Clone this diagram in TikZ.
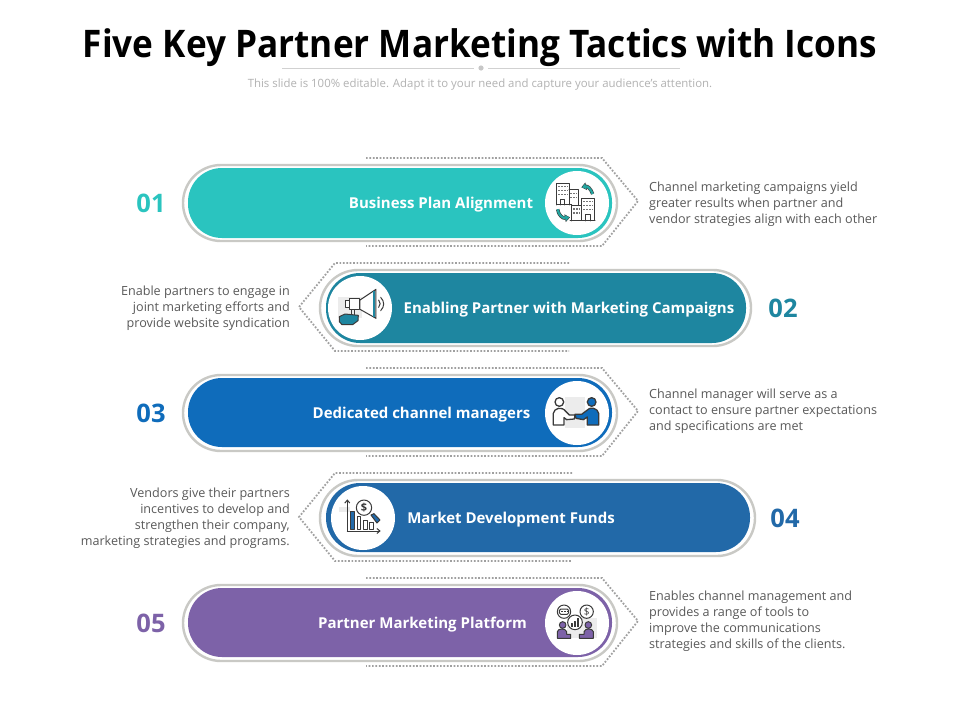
\documentclass[tikz,border=0pt]{standalone}
\usepackage{fontspec}
\setmainfont{Open Sans}
\newfontfamily\titlefont[FakeStretch=0.925]{Open Sans}
\usetikzlibrary{arrows.meta}
\definecolor{cA}{HTML}{2AC4BF}
\definecolor{cB}{HTML}{1E86A0}
\definecolor{cC}{HTML}{0F6CBB}
\definecolor{cD}{HTML}{2269A8}
\definecolor{cE}{HTML}{7D62A8}
\definecolor{ink}{HTML}{3A3A3A}
\definecolor{bodytext}{HTML}{595959}
\definecolor{ringgray}{HTML}{C9C9C5}
\definecolor{dotgray}{HTML}{A0A0A0}
\definecolor{halo}{HTML}{ECECEC}
\tikzset{
  ring/.style={draw=ringgray,line width=2.4pt,fill=white,rounded corners=38pt},
  pill/.style={rounded corners=34pt},
  dotrim/.style={draw=dotgray,line width=1.8pt,dash pattern=on 1.7pt off 1.7pt},
  disc/.style={fill=white},
  pilltext/.style={text=white,font=\fontsize{15}{17}\selectfont\bfseries,inner sep=0pt},
  numtext/.style={font=\fontsize{25.5}{28}\selectfont\bfseries,inner sep=0pt},
  lefttext/.style={text=bodytext,font=\fontsize{12.6}{16}\selectfont,align=left,anchor=west,inner sep=0pt},
  righttext/.style={text=bodytext,font=\fontsize{12.6}{16}\selectfont,align=right,anchor=east,inner sep=0pt},
  ic/.style={draw=ink,line width=1pt,line join=round,line cap=round},
  thin ic/.style={draw=ink!70,line width=0.45pt},
  zoomed/.style={x=0.3333pt,y=-0.3333pt}
}
\begin{document}
\begin{tikzpicture}[x=1pt,y=-1pt]
\useasboundingbox (0,0) rectangle (960,720);
\fill[white] (0,0) rectangle (960,720);
% title
\node[inner sep=0pt,font=\titlefont\fontsize{38}{42}\selectfont\bfseries] (title) at (480,48) {Five Key Partner Marketing Tactics with Icons};
\coordinate (ruleA) at (282,68);
\coordinate (ruleB) at (474,68);
\coordinate (ruleC) at (488,68);
\coordinate (ruleD) at (680,68);
\draw[draw=black!18,line width=0.7pt] (ruleA) -- (ruleB) (ruleC) -- (ruleD);
\fill[black!22] (481,68) circle (2.6);
\node[inner sep=0pt,text=black!30,font=\fontsize{11.4}{13}\selectfont] (subtitle) at (480,85) {This slide is 100\% editable. Adapt it to your need and capture your audience's attention.};

% dotted rims
\draw[dotrim] (366,158) -- (602,158) -- (638,201) -- (602,246) -- (366,246);
\draw[dotrim] (569,263) -- (335,263) -- (299,307) -- (335,351) -- (569,351);
\draw[dotrim] (366,368) -- (602,368) -- (638,411) -- (602,456) -- (366,456);
\draw[dotrim] (572,473) -- (335,473) -- (299,517) -- (335,561) -- (572,561);
\draw[dotrim] (366,578) -- (602,578) -- (638,621) -- (602,666) -- (366,666);

% rings, pills, discs
\draw[ring] (183,165) rectangle (617,241);
\fill[cA,pill] (188,168) rectangle (612,238);
\fill[disc] (577,203) circle (32);
\draw[ring] (320,270) rectangle (751,346);
\fill[cB,pill] (326,273) rectangle (746,343);
\fill[disc] (360,308) circle (32);
\draw[ring] (183,375) rectangle (617,451);
\fill[cC,pill] (188,378) rectangle (612,447);
\fill[disc] (577,413) circle (32);
\draw[ring] (320,480) rectangle (755,556);
\fill[cD,pill] (326,483) rectangle (750,552);
\fill[disc] (363,518) circle (32);
\draw[ring] (183,585) rectangle (617,661);
\fill[cE,pill] (188,588) rectangle (612,657);
\fill[disc] (577,623) circle (32);

% pill labels
\node[pilltext] (labA) at (441,205) {Business Plan Alignment};
\node[pilltext] (labB) at (569,310) {Enabling Partner with Marketing Campaigns};
\node[pilltext] (labC) at (421.5,415) {Dedicated channel managers};
\node[pilltext] (labD) at (511,520) {Market Development Funds};
\node[pilltext] (labE) at (422.5,625) {Partner Marketing Platform};

% numbers
\node[numtext,text=cA] (numA) at (151,203) {01};
\node[numtext,text=cB] (numB) at (783,308) {02};
\node[numtext,text=cC] (numC) at (151,413) {03};
\node[numtext,text=cD] (numD) at (785,518) {04};
\node[numtext,text=cE] (numE) at (151,623) {05};

% descriptions
\node[lefttext] (txtA) at (649,204) {Channel marketing campaigns yield\\greater results when partner and\\vendor strategies align with each other};
\node[righttext] (txtB) at (290,308) {Enable partners to engage in\\joint marketing efforts and\\provide website syndication};
\node[lefttext] (txtC) at (649,411) {Channel manager will serve as a\\contact to ensure partner expectations\\and specifications are met};
\node[righttext] (txtD) at (290,518) {Vendors give their partners\\incentives to develop and\\strengthen their company,\\marketing strategies and programs.};
\node[lefttext] (txtE) at (649,621) {Enables channel management and\\provides a range of tools to\\improve the communications\\strategies and skills of the clients.};

% icon 1: buildings
\begin{scope}[shift={(520,140)},zoomed]
  \draw[ic] (110,195) -- (110,130) -- (147,130) -- (147,195);
  \draw[ic] (147,150) -- (175,150) -- (175,195);
  \draw[ic] (110,195) -- (155,195);
  \draw[ic] (155,243) -- (155,197) -- (185,197);
  \draw[ic,fill=white] (185,243) -- (185,175) -- (222,175) -- (222,243) -- cycle;
  \draw[ic] (150,243) -- (225,243);
  \foreach \r in {140,152,164} {\draw[thin ic,line width=1.6pt,dash pattern=on 2pt off 1pt] (115,\r) -- (143,\r);}
  \foreach \r in {160,172} {\draw[thin ic,line width=1.6pt,dash pattern=on 2pt off 1pt] (151,\r) -- (172,\r);}
  \foreach \r in {185,197,209} {\draw[thin ic,line width=1.6pt,dash pattern=on 2pt off 1pt] (190,\r) -- (218,\r);}
  \foreach \r in {207,219} {\draw[thin ic,line width=1.6pt,dash pattern=on 2pt off 1pt] (159,\r) -- (181,\r);}
  \draw[ic] (120,195) -- (120,178) -- (134,178) -- (134,195);
  \draw[ic] (195,243) -- (195,224) -- (212,224) -- (212,243);
  \draw[draw=ink,line width=3.4pt,-{Triangle[length=5pt,width=7.5pt]}] (218,162) .. controls (212,145) and (202,138) .. (184,142);
  \draw[draw=cA!85!black,line width=2.2pt,-{Triangle[length=4pt,width=5.6pt]}] (218,162) .. controls (212,145) and (202,138) .. (186,142);
  \draw[draw=ink,line width=3.4pt,-{Triangle[length=5pt,width=7.5pt]}] (113,208) .. controls (115,225) and (128,236) .. (150,232);
  \draw[draw=cA!85!black,line width=2.2pt,-{Triangle[length=4pt,width=5.6pt]}] (113,208) .. controls (115,225) and (128,236) .. (148,232);
\end{scope}

% icon 2: megaphone
\begin{scope}[shift={(290,250)},zoomed]
  \fill[halo] (145,140) rectangle (215,205);
  \draw[ic,fill=white] (210,150) -- (258,118) -- (258,205) -- (210,178) -- cycle;
  \draw[draw=cB,line width=1.6pt] (252,124) -- (252,200);
  \draw[ic,fill=white] (178,147) rectangle (210,180);
  \draw[ic,fill=white] (168,153) rectangle (178,174);
  \draw[ic] (184,180) -- (184,195) (195,180) -- (195,195);
  \draw[ic,fill=cB] (148,200) -- (165,192) -- (205,196) -- (204,212) -- (188,224) -- (156,224) -- (148,215) -- cycle;
  \draw[ic] (266,150) .. controls (272,156) and (272,166) .. (266,172);
  \draw[ic] (272,142) .. controls (284,154) and (284,170) .. (272,182);
\end{scope}

% icon 3: handshake
\begin{scope}[shift={(530,365)},zoomed]
  \fill[halo] (105,95) rectangle (165,190);
  \draw[ic,line width=1.3pt] (88,111) circle (13);
  \draw[ic,line width=1.3pt,fill=white] (70,180) -- (70,145) .. controls (72,130) and (95,122) .. (108,140) -- (118,150) -- (135,150) -- (133,162) -- (110,164) -- (102,158) -- (102,180) -- cycle;
  \draw[ic,line width=1.3pt,fill=cC] (185,111) circle (13);
  \draw[ic,line width=1.3pt,fill=cC] (206,180) -- (206,145) .. controls (204,130) and (180,122) .. (168,138) -- (155,148) -- (135,148) -- (138,160) -- (160,164) -- (172,156) -- (172,180) -- cycle;
\end{scope}

% icon 4: chart with magnifier
\begin{scope}[shift={(300,470)},zoomed]
  \fill[halo] (118,112) rectangle (150,125);
  \draw[ic,-{Straight Barb[length=3pt,width=5pt]}] (142,183) -- (142,88);
  \draw[ic,-{Straight Barb[length=3pt,width=5pt]}] (142,183) -- (242,183);
  \draw[ic,fill=cD] (152,178) rectangle (162,125);
  \draw[ic] (172,178) rectangle (182,138);
  \draw[ic] (192,178) rectangle (202,152);
  \draw[ic] (210,178) rectangle (220,158);
  \draw[ic,fill=white] (192,113) circle (23);
  \draw[ic,fill=cD] (213,135) -- (222,131) -- (240,150) -- (231,159) -- cycle;
  \node[inner sep=0pt,text=ink,font=\fontsize{11}{12}\selectfont\bfseries] (dollarD) at (192,113) {\$};
\end{scope}

% icon 5: platform
\begin{scope}[shift={(530,575)},zoomed]
  \fill[halo] (110,130) rectangle (200,190);
  \draw[ic,fill=white] (102,110) circle (20);
  \draw[ic,fill=white] (170,110) circle (20);
  \draw[ic,rounded corners=1.5pt] (88,102) rectangle (116,118);
  \draw[draw=ink,line width=1pt,dash pattern=on 1.5pt off 1.5pt] (93,110) -- (112,110);
  \node[inner sep=0pt,text=ink,font=\fontsize{10}{12}\selectfont] (dollarE) at (170,110) {\$};
  \draw[ic,fill=white] (135,142) circle (22);
  \draw[ic,fill=ink!80] (123,155) rectangle (128,146);
  \draw[ic,fill=ink!80] (132,155) rectangle (137,140);
  \draw[ic,fill=ink!80] (141,155) rectangle (146,130);
  \draw[ic,fill=cE] (98,150) circle (10);
  \draw[ic,fill=cE] (82,190) -- (82,170) .. controls (84,160) and (106,158) .. (110,170) -- (110,178) -- (122,178) -- (122,190) -- cycle;
  \draw[ic,fill=cE] (175,150) circle (10);
  \draw[ic,fill=cE] (190,190) -- (190,170) .. controls (188,160) and (166,158) .. (162,170) -- (162,178) -- (148,178) -- (148,190) -- cycle;
\end{scope}
\end{tikzpicture}
\end{document}
